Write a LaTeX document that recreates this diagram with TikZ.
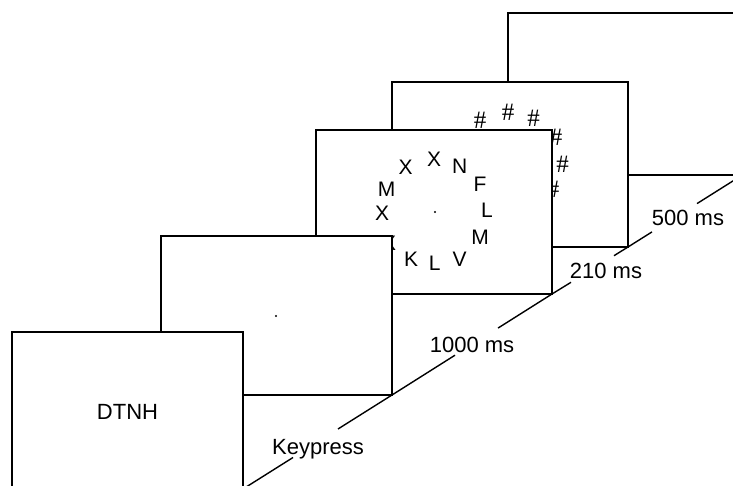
\documentclass[tikz,border=0pt]{standalone}
\usepackage{fontspec}
\setmainfont{Liberation Sans}
\newfontfamily\hashfont{Liberation Serif}
\begin{document}
\begin{tikzpicture}[x=1pt,y=-1pt,
  frame/.style={draw=black, fill=white, line width=1.8pt},
  lbl/.style={font=\fontsize{22}{24}\selectfont, inner sep=0pt, anchor=base},
  ltr/.style={font=\fontsize{21}{24}\selectfont, inner sep=0pt},
  hsh/.style={font=\hashfont\fontsize{25}{28}\selectfont, inner sep=0pt},
  fixdot/.style={circle, fill=black, inner sep=0pt, minimum size=2.2pt},
  timeline/.style={line width=1.4pt}]
\useasboundingbox (0,0) rectangle (733,486);
\clip (0,0) rectangle (733,486);

% frame 5 (blank, back)
\draw[frame] (508,13) rectangle (770,175);

% frame 4 (mask)
\draw[frame] (392,82) rectangle (628,247);
\node[hsh] (h1) at (480,120) {\#};
\node[hsh] (h2) at (508,112) {\#};
\node[hsh] (h3) at (533.5,118) {\#};
\node[hsh] (h4) at (556,137) {\#};
\node[hsh] (h5) at (562.5,164) {\#};
\node[hsh] (h6) at (553,189) {\#};
\node[hsh] (h7) at (465,138) {\#};

% frame 3 (letter circle)
\draw[frame] (316,130) rectangle (552,294);
\node[fixdot] (d3) at (435,212) {};
\node[ltr] (l1) at (434,159.5) {X};
\node[ltr] (l2) at (459.7,166) {N};
\node[ltr] (l3) at (480,184.7) {F};
\node[ltr] (l4) at (487,210) {L};
\node[ltr] (l5) at (480,237.7) {M};
\node[ltr] (l6) at (459.7,258.8) {V};
\node[ltr] (l7) at (434.7,262.8) {L};
\node[ltr] (l8) at (411,258.8) {K};
\node[ltr] (l9) at (389,243) {X};
\node[ltr] (l10) at (382,212.8) {X};
\node[ltr] (l11) at (386.7,189) {M};
\node[ltr] (l12) at (405.5,167.5) {X};

% frame 2 (fixation)
\draw[frame] (161,236) rectangle (392,395);
\node[fixdot] (d2) at (276,316) {};

% frame 1 (DTNH)
\draw[frame] (12,332) rectangle (243,489);
\node[lbl] (dtnh) at (127.5,419.3) {DTNH};

% timeline
\coordinate (c1) at (243,489);
\coordinate (c2) at (392,395);
\coordinate (c3) at (552,294);
\coordinate (c4) at (628,247);
\coordinate (c5) at (744,174);
\coordinate (k1) at (293,457.5);
\coordinate (k2) at (338,429);
\coordinate (t1) at (455,355.2);
\coordinate (t2) at (498,328.1);
\coordinate (s1) at (571,282.3);
\coordinate (s2) at (614,255.7);
\coordinate (f1) at (652,231.9);
\coordinate (f2) at (697,203.6);
\draw[timeline] (c1) -- (k1);
\draw[timeline] (k2) -- (c2) -- (t1);
\draw[timeline] (t2) -- (c3) -- (s1);
\draw[timeline] (s2) -- (c4) -- (f1);
\draw[timeline] (f2) -- (c5);

\node[lbl] (kp) at (318,454) {Keypress};
\node[lbl] (t1000) at (472,352.5) {1000 ms};
\node[lbl] (t210) at (606,278.3) {210 ms};
\node[lbl] (t500) at (688,226) {500 ms};
\end{tikzpicture}
\end{document}
